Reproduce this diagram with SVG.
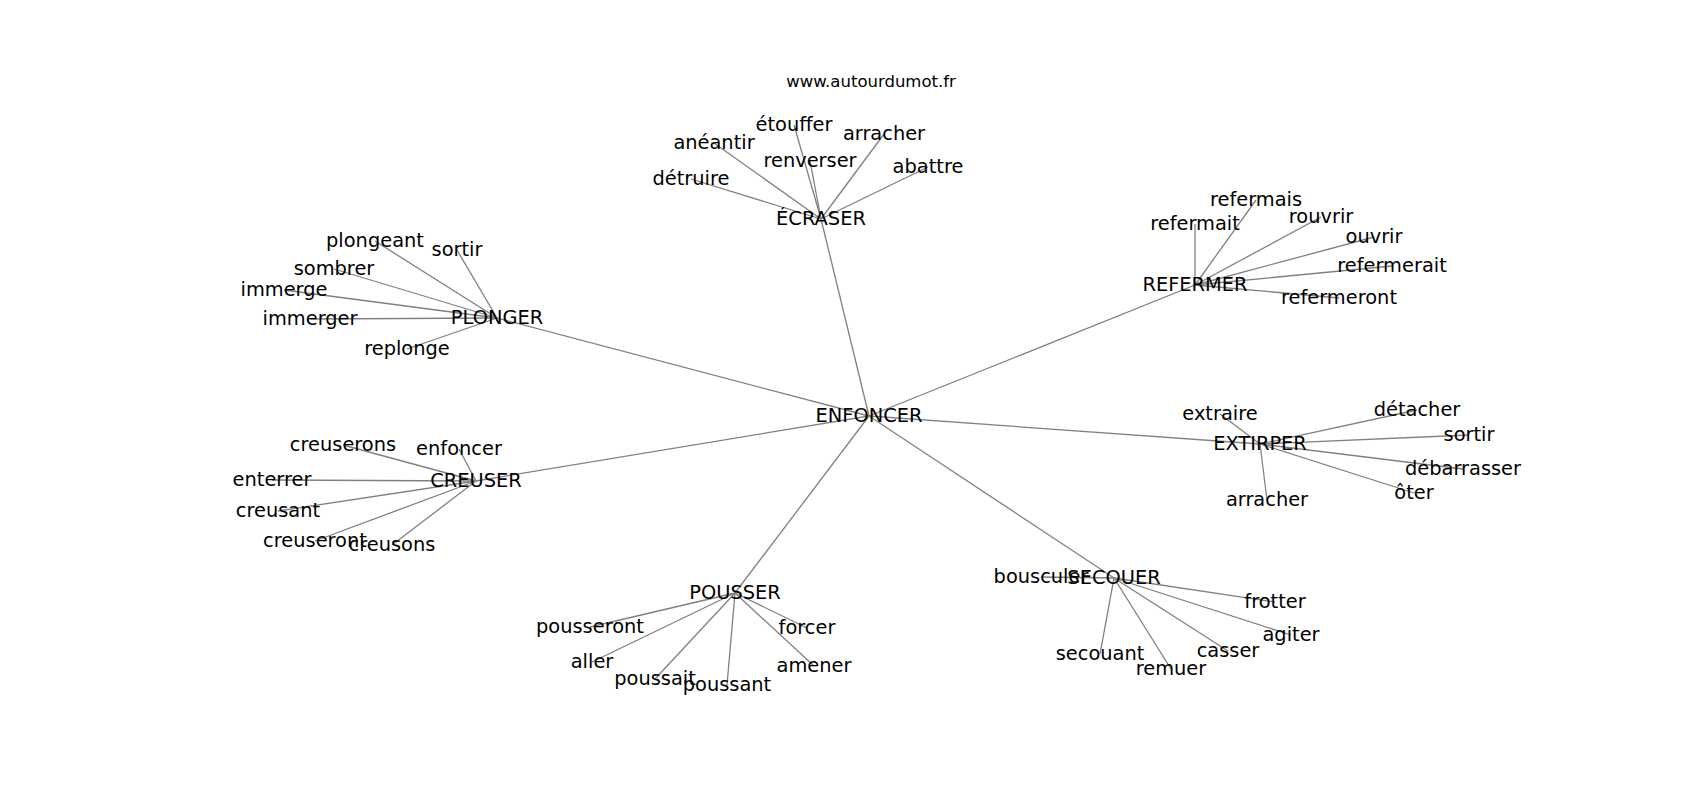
<svg xmlns="http://www.w3.org/2000/svg" width="1700" height="800" viewBox="0 0 1700 800">
<style>
  text { font-family: "DejaVu Sans", sans-serif; font-size: 19.4px; fill: #000; text-anchor: middle; }
  .title { font-size: 16.5px; }
  line { stroke: #808080; stroke-width: 1.3; }
</style>
<rect width="1700" height="800" fill="#fff"/>
<g id="connectors">
  <line x1="869" y1="416" x2="821" y2="219"/>
  <line x1="869" y1="416" x2="497" y2="318"/>
  <line x1="869" y1="416" x2="1195" y2="285"/>
  <line x1="869" y1="416" x2="1260" y2="444"/>
  <line x1="869" y1="416" x2="476" y2="481"/>
  <line x1="869" y1="416" x2="735" y2="593"/>
  <line x1="869" y1="416" x2="1114" y2="578"/>
  <!-- ECRASER -->
  <line x1="821" y1="219" x2="714" y2="143"/>
  <line x1="821" y1="219" x2="794" y2="125"/>
  <line x1="821" y1="219" x2="884" y2="134"/>
  <line x1="821" y1="219" x2="810" y2="161"/>
  <line x1="821" y1="219" x2="691" y2="179"/>
  <line x1="821" y1="219" x2="928" y2="167"/>
  <!-- PLONGER -->
  <line x1="497" y1="318" x2="375" y2="241"/>
  <line x1="497" y1="318" x2="457" y2="250"/>
  <line x1="497" y1="318" x2="334" y2="269"/>
  <line x1="497" y1="318" x2="284" y2="290"/>
  <line x1="497" y1="318" x2="310" y2="319"/>
  <line x1="497" y1="318" x2="407" y2="349"/>
  <!-- REFERMER -->
  <line x1="1195" y1="285" x2="1256" y2="200"/>
  <line x1="1195" y1="285" x2="1195" y2="224"/>
  <line x1="1195" y1="285" x2="1321" y2="217"/>
  <line x1="1195" y1="285" x2="1374" y2="237"/>
  <line x1="1195" y1="285" x2="1392" y2="266"/>
  <line x1="1195" y1="285" x2="1339" y2="298"/>
  <!-- EXTIRPER -->
  <line x1="1260" y1="444" x2="1220" y2="414"/>
  <line x1="1260" y1="444" x2="1417" y2="410"/>
  <line x1="1260" y1="444" x2="1469" y2="435"/>
  <line x1="1260" y1="444" x2="1463" y2="469"/>
  <line x1="1260" y1="444" x2="1414" y2="493"/>
  <line x1="1260" y1="444" x2="1267" y2="500"/>
  <!-- CREUSER -->
  <line x1="476" y1="481" x2="343" y2="445"/>
  <line x1="476" y1="481" x2="459" y2="449"/>
  <line x1="476" y1="481" x2="272" y2="480"/>
  <line x1="476" y1="481" x2="278" y2="511"/>
  <line x1="476" y1="481" x2="315" y2="541"/>
  <line x1="476" y1="481" x2="392" y2="545"/>
  <!-- POUSSER -->
  <line x1="735" y1="593" x2="590" y2="627"/>
  <line x1="735" y1="593" x2="592" y2="662"/>
  <line x1="735" y1="593" x2="655" y2="679"/>
  <line x1="735" y1="593" x2="727" y2="685"/>
  <line x1="735" y1="593" x2="807" y2="628"/>
  <line x1="735" y1="593" x2="814" y2="666"/>
  <!-- SECOUER -->
  <line x1="1114" y1="578" x2="1041" y2="577"/>
  <line x1="1114" y1="578" x2="1275" y2="602"/>
  <line x1="1114" y1="578" x2="1291" y2="635"/>
  <line x1="1114" y1="578" x2="1228" y2="651"/>
  <line x1="1114" y1="578" x2="1100" y2="654"/>
  <line x1="1114" y1="578" x2="1171" y2="669"/>
</g>
<g id="title"><text class="title" x="871" y="82" dy="0.32em">www.autourdumot.fr</text></g>
<g id="n-enfoncer"><text x="869" y="416" dy="0.29em">ENFONCER</text></g>
<g id="n-ecraser"><text x="821" y="219" dy="0.29em">ÉCRASER</text></g>
<g id="n-plonger"><text x="497" y="318" dy="0.29em">PLONGER</text></g>
<g id="n-refermer"><text x="1195" y="285" dy="0.29em">REFERMER</text></g>
<g id="n-extirper"><text x="1260" y="444" dy="0.29em">EXTIRPER</text></g>
<g id="n-creuser"><text x="476" y="481" dy="0.29em">CREUSER</text></g>
<g id="n-pousser"><text x="735" y="593" dy="0.29em">POUSSER</text></g>
<g id="n-secouer"><text x="1114" y="578" dy="0.29em">SECOUER</text></g>
<g id="n-aneantir"><text x="714" y="143" dy="0.29em">anéantir</text></g>
<g id="n-etouffer"><text x="794" y="125" dy="0.29em">étouffer</text></g>
<g id="n-arracher1"><text x="884" y="134" dy="0.29em">arracher</text></g>
<g id="n-renverser"><text x="810" y="161" dy="0.29em">renverser</text></g>
<g id="n-detruire"><text x="691" y="179" dy="0.29em">détruire</text></g>
<g id="n-abattre"><text x="928" y="167" dy="0.29em">abattre</text></g>
<g id="n-plongeant"><text x="375" y="241" dy="0.29em">plongeant</text></g>
<g id="n-sortir1"><text x="457" y="250" dy="0.29em">sortir</text></g>
<g id="n-sombrer"><text x="334" y="269" dy="0.29em">sombrer</text></g>
<g id="n-immerge"><text x="284" y="290" dy="0.29em">immerge</text></g>
<g id="n-immerger"><text x="310" y="319" dy="0.29em">immerger</text></g>
<g id="n-replonge"><text x="407" y="349" dy="0.29em">replonge</text></g>
<g id="n-refermais"><text x="1256" y="200" dy="0.29em">refermais</text></g>
<g id="n-refermait"><text x="1195" y="224" dy="0.29em">refermait</text></g>
<g id="n-rouvrir"><text x="1321" y="217" dy="0.29em">rouvrir</text></g>
<g id="n-ouvrir"><text x="1374" y="237" dy="0.29em">ouvrir</text></g>
<g id="n-refermerait"><text x="1392" y="266" dy="0.29em">refermerait</text></g>
<g id="n-refermeront"><text x="1339" y="298" dy="0.29em">refermeront</text></g>
<g id="n-extraire"><text x="1220" y="414" dy="0.29em">extraire</text></g>
<g id="n-detacher"><text x="1417" y="410" dy="0.29em">détacher</text></g>
<g id="n-sortir2"><text x="1469" y="435" dy="0.29em">sortir</text></g>
<g id="n-debarrasser"><text x="1463" y="469" dy="0.29em">débarrasser</text></g>
<g id="n-oter"><text x="1414" y="493" dy="0.29em">ôter</text></g>
<g id="n-arracher2"><text x="1267" y="500" dy="0.29em">arracher</text></g>
<g id="n-creuserons"><text x="343" y="445" dy="0.29em">creuserons</text></g>
<g id="n-enfoncer2"><text x="459" y="449" dy="0.29em">enfoncer</text></g>
<g id="n-enterrer"><text x="272" y="480" dy="0.29em">enterrer</text></g>
<g id="n-creusant"><text x="278" y="511" dy="0.29em">creusant</text></g>
<g id="n-creuseront"><text x="315" y="541" dy="0.29em">creuseront</text></g>
<g id="n-creusons"><text x="392" y="545" dy="0.29em">creusons</text></g>
<g id="n-pousseront"><text x="590" y="627" dy="0.29em">pousseront</text></g>
<g id="n-aller"><text x="592" y="662" dy="0.29em">aller</text></g>
<g id="n-poussait"><text x="655" y="679" dy="0.29em">poussait</text></g>
<g id="n-poussant"><text x="727" y="685" dy="0.29em">poussant</text></g>
<g id="n-forcer"><text x="807" y="628" dy="0.29em">forcer</text></g>
<g id="n-amener"><text x="814" y="666" dy="0.29em">amener</text></g>
<g id="n-bousculer"><text x="1041" y="577" dy="0.29em">bousculer</text></g>
<g id="n-frotter"><text x="1275" y="602" dy="0.29em">frotter</text></g>
<g id="n-agiter"><text x="1291" y="635" dy="0.29em">agiter</text></g>
<g id="n-casser"><text x="1228" y="651" dy="0.29em">casser</text></g>
<g id="n-secouant"><text x="1100" y="654" dy="0.29em">secouant</text></g>
<g id="n-remuer"><text x="1171" y="669" dy="0.29em">remuer</text></g>
</svg>
